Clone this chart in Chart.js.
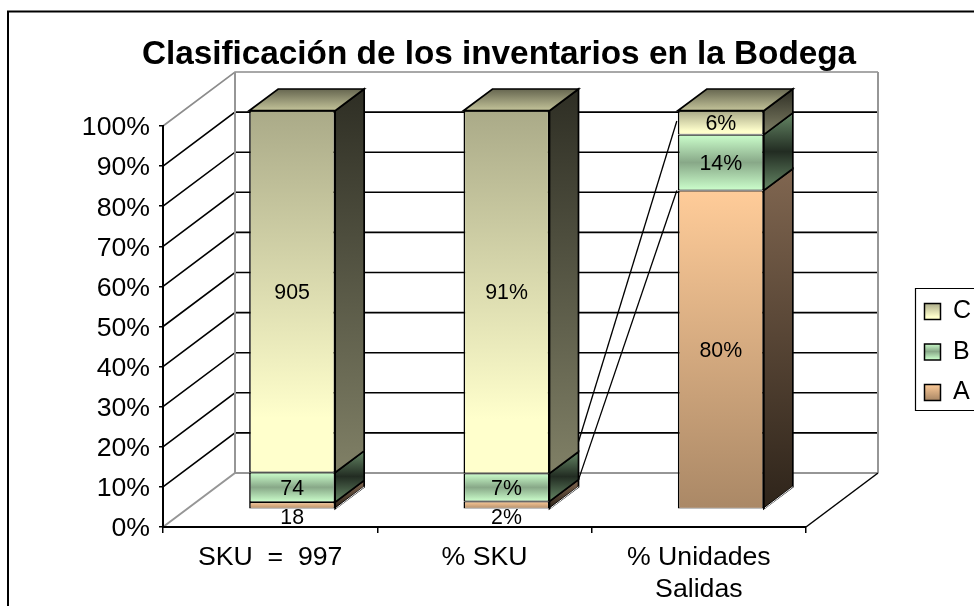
<!DOCTYPE html>
<html><head><meta charset="utf-8">
<style>html,body{margin:0;padding:0;background:#fff;overflow:hidden}#w{width:974px;height:606px;position:relative}canvas{display:block}</style>
<script src="https://cdn.jsdelivr.net/npm/chart.js@4"></script>
</head><body><div id="w"><canvas id="c" width="974" height="606" style="width:974px;height:606px"></canvas></div>
<script>
const categories = ['SKU  =  997', '% SKU', ['% Unidades', 'Salidas']];
const seriesA = [18, 2, 80];
const seriesB = [74, 7, 14];
const seriesC = [905, 91, 6];
const labelSuffix = ['', '%', '%'];
const tickValues = [0,10,20,30,40,50,60,70,80,90,100];
const titleText = 'Clasificación de los inventarios en la Bodega';

const totals = categories.map((_, i) => seriesA[i] + seriesB[i] + seriesC[i]);
const pct = s => s.map((v, i) => v / totals[i] * 100);

// 3D projection constants (pixels)
const WALL = {dx: 72, dy: -54};
const BAR_T = {a: 398.6 / 401, b: 509.3 - 527 * 398.6 / 401, dx: 22};
const DEPTH = {dx: 29, dy: -21.7};
const by = y => BAR_T.a * y + BAR_T.b;

const grad = (ctx, y0, y1, stops) => {
  const g = ctx.createLinearGradient(0, y0, 0, y1);
  stops.forEach(([p, c]) => g.addColorStop(p, c));
  return g;
};
const FRONT = {
  A: [[0, '#FFCC99'], [1, '#AA8866']],
  B: [[0, '#CCFFCC'], [.5, '#88A888'], [1, '#CCFFCC']],
  C: [[0, '#AAAA88'], [.85, '#FFFFCC'], [1, '#FFFFCC']]
};
const SIDE = {
  A: [[0, '#806650'], [1, '#2E241A']],
  B: [[0, '#668866'], [.5, '#222C22'], [1, '#668866']],
  C: [[0, '#2E2E24'], [1, '#808066']]
};
const TOPFACE = [[0, '#666650'], [1, '#C4C49A']];

function frontFill(key) {
  return c => {
    const chart = c.chart;
    if (c.type !== 'data' || !chart.scales.y) return FRONT[key][0][1];
    const scale = chart.scales.y;
    const ds = chart.data.datasets;
    let low = 0;
    for (let k = 0; k < c.datasetIndex; k++) low += ds[k].data[c.dataIndex];
    const y0 = scale.getPixelForValue(low + ds[c.datasetIndex].data[c.dataIndex]);
    const y1 = scale.getPixelForValue(low);
    return grad(chart.ctx, y0, y1, FRONT[key]);
  };
}

const scene = {
  id: 'scene',
  afterLayout(chart) {
    const l = chart.legend;
    const w = l.width, h = l.height;
    l.left = 909; l.right = 909 + w; l.top = 283.5; l.bottom = 283.5 + h;
  },
  beforeDraw(chart) {
    const {ctx, scales: {x, y}} = chart;
    const L = x.left, R = x.right, B = y.bottom, T = y.getPixelForValue(100);
    // nudge the value-axis labels onto the tick centres
    y.getLabelItems().forEach(it => { it.options.translation[1] += 2; });
    ctx.save();
    // outer frame of the picture
    ctx.strokeStyle = '#000'; ctx.lineWidth = 2;
    ctx.beginPath(); ctx.moveTo(8, 606); ctx.lineTo(8, 11.5); ctx.lineTo(974, 11.5); ctx.stroke();
    // grid on side wall & back wall
    ctx.lineWidth = 1.6;
    tickValues.forEach(v => {
      if (v === 0) return;
      const p = y.getPixelForValue(v);
      ctx.strokeStyle = v === 100 ? '#8c8c8c' : '#000';
      ctx.beginPath();
      ctx.moveTo(L, p); ctx.lineTo(L + WALL.dx, p + WALL.dy);
      ctx.lineTo(R + WALL.dx, p + WALL.dy);
      ctx.stroke();
    });
    ctx.strokeStyle = '#969696'; ctx.lineWidth = 2;
    ctx.beginPath();
    ctx.moveTo(L + WALL.dx, T + WALL.dy); ctx.lineTo(L + WALL.dx, B + WALL.dy);
    ctx.moveTo(R + WALL.dx, T + WALL.dy); ctx.lineTo(R + WALL.dx, B + WALL.dy);
    ctx.moveTo(L, B); ctx.lineTo(L + WALL.dx, B + WALL.dy); ctx.lineTo(R + WALL.dx, B + WALL.dy);
    ctx.stroke();
    ctx.strokeStyle = '#000'; ctx.lineWidth = 1.5;
    ctx.beginPath(); ctx.moveTo(R, B); ctx.lineTo(R + WALL.dx, B + WALL.dy); ctx.stroke();
    ctx.restore();
  },
  beforeDatasetsDraw(chart) {
    const ctx = chart.ctx;
    ctx.save();
    ctx.transform(1, 0, 0, BAR_T.a, BAR_T.dx, BAR_T.b);
  },
  afterDatasetsDraw(chart) {
    const {ctx} = chart;
    ctx.restore();
    const keys = ['A', 'B', 'C'];
    ctx.save();
    ctx.strokeStyle = '#000'; ctx.lineWidth = 1.7; ctx.lineJoin = 'miter';
    categories.forEach((_, i) => {
      let lastTop = 0, xl = 0, xr = 0;
      keys.forEach((k, d) => {
        const el = chart.getDatasetMeta(d).data[i];
        const w = el.width;
        xl = el.x - w / 2 + BAR_T.dx; xr = el.x + w / 2 + BAR_T.dx;
        const yt = by(el.y), yb = by(el.base);
        ctx.fillStyle = grad(ctx, yt + DEPTH.dy, yb, SIDE[k]);
        ctx.beginPath();
        ctx.moveTo(xr, yt); ctx.lineTo(xr + DEPTH.dx, yt + DEPTH.dy);
        ctx.lineTo(xr + DEPTH.dx, yb + DEPTH.dy); ctx.lineTo(xr, yb);
        ctx.closePath(); ctx.fill(); ctx.stroke();
        if (d === 0) {
          // light highlight along the lower edge of the side face
          ctx.save();
          ctx.strokeStyle = '#f0f0f0'; ctx.lineWidth = 1;
          ctx.beginPath();
          ctx.moveTo(xr + 1, yb - 0.5); ctx.lineTo(xr + DEPTH.dx, yb + DEPTH.dy);
          ctx.stroke();
          ctx.restore();
        }
        lastTop = yt;
      });
      ctx.fillStyle = grad(ctx, lastTop + DEPTH.dy, lastTop, TOPFACE);
      ctx.beginPath();
      ctx.moveTo(xl, lastTop); ctx.lineTo(xr, lastTop);
      ctx.lineTo(xr + DEPTH.dx, lastTop + DEPTH.dy); ctx.lineTo(xl + DEPTH.dx, lastTop + DEPTH.dy);
      ctx.closePath(); ctx.fill(); ctx.stroke();
    });
    // series lines between second and third column
    ctx.lineWidth = 1.3;
    [[0, 0, 0], [1, -10, -13.6]].forEach(([d, n0, n1]) => {
      const a = chart.getDatasetMeta(d).data[1], b = chart.getDatasetMeta(d).data[2];
      ctx.beginPath();
      ctx.moveTo(a.x + a.width / 2 + BAR_T.dx + DEPTH.dx, by(a.y) + DEPTH.dy + n0);
      ctx.lineTo(b.x - b.width / 2 + BAR_T.dx - 1, by(b.y) + n1);
      ctx.stroke();
    });
    // value labels
    ctx.fillStyle = '#000';
    ctx.font = '21.33px "Liberation Sans"';
    ctx.textAlign = 'center'; ctx.textBaseline = 'middle';
    [seriesA, seriesB, seriesC].forEach((s, d) => {
      s.forEach((v, i) => {
        const el = chart.getDatasetMeta(d).data[i];
        const yt = by(el.y), yb = by(el.base);
        const yc = (yb - yt) < 14 ? yb + 8.5 : (yt + yb) / 2;
        ctx.fillText(v + labelSuffix[i], el.x + BAR_T.dx, yc + 1.5);
      });
    });
    // legend frame
    ctx.strokeStyle = '#000'; ctx.lineWidth = 1.2;
    ctx.beginPath();
    ctx.moveTo(974, 288.5); ctx.lineTo(915.5, 288.5); ctx.lineTo(915.5, 410.5); ctx.lineTo(974, 410.5);
    ctx.stroke();
    ctx.restore();
  }
};

const barStyle = {borderColor: '#000', borderWidth: {left: 1.6, right: 1.6, top: 1.1, bottom: 0.9}, borderSkipped: false, clip: false};

new Chart(document.getElementById('c'), {
  type: 'bar',
  data: {
    labels: categories,
    datasets: [
      {label: 'A', data: pct(seriesA), backgroundColor: frontFill('A'), ...barStyle},
      {label: 'B', data: pct(seriesB), backgroundColor: frontFill('B'), ...barStyle},
      {label: 'C', data: pct(seriesC), backgroundColor: frontFill('C'), ...barStyle}
    ]
  },
  options: {
    responsive: false,
    animation: false,
    devicePixelRatio: 1,
    layout: {padding: {left: 0, right: 974 - 806, top: 126, bottom: 0}},
    categoryPercentage: 86 / 214.3,
    barPercentage: 1,
    scales: {
      x: {
        stacked: true,
        grid: {drawOnChartArea: false, drawTicks: true, tickLength: 6, color: '#000', lineWidth: 1.5},
        border: {color: '#000', width: 2},
        ticks: {color: '#000', font: {family: '"Liberation Sans"', size: 26.67}, padding: 9, maxRotation: 0, autoSkip: false},
        afterFit: s => { s.height = 606 - 527; }
      },
      y: {
        stacked: true, min: 0, max: 100,
        grid: {drawOnChartArea: false, drawTicks: true, tickLength: 4, color: '#000', lineWidth: 1.5},
        border: {color: '#000', width: 2},
        ticks: {color: '#000', stepSize: 10, font: {family: '"Liberation Sans"', size: 26.67}, padding: 9, callback: v => v + '%'},
        afterFit: s => { s.width = 163; }
      }
    },
    plugins: {
      title: {display: false},
      tooltip: {enabled: false},
      legend: {
        display: true, position: 'chartArea', align: 'start', reverse: true,
        labels: {
          color: '#000', boxWidth: 16, boxHeight: 16, padding: 15.5,
          font: {family: '"Liberation Sans"', size: 25},
          generateLabels(chart) {
            const ctx = chart.ctx;
            return chart.data.datasets.map((d, i) => {
              const k = d.label;
              const t = 303 + (2 - i) * 40.5;
              return {text: k, fillStyle: grad(ctx, t, t + 16, FRONT[k]), strokeStyle: '#000', lineWidth: 1.5, datasetIndex: i};
            });
          }
        }
      }
    }
  },
  plugins: [scene, {
    id: 'heading',
    afterDraw(chart) {
      const ctx = chart.ctx;
      ctx.save();
      ctx.fillStyle = '#000'; ctx.font = 'bold 33.3px "Liberation Sans"';
      ctx.textAlign = 'center'; ctx.textBaseline = 'alphabetic';
      ctx.fillText(titleText, 499, 63.5);
      ctx.restore();
    }
  }]
});
</script>
</body></html>
